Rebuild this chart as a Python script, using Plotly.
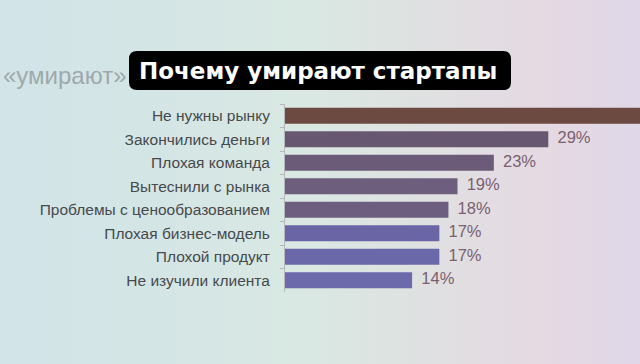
import plotly.graph_objects as go

# ---- data ----
categories = [
    "Не нужны рынку",
    "Закончились деньги",
    "Плохая команда",
    "Вытеснили с рынка",
    "Проблемы с ценообразованием",
    "Плохая бизнес-модель",
    "Плохой продукт",
    "Не изучили клиента",
]
values = [42, 29, 23, 19, 18, 17, 17, 14]
bar_colors = ["#6d4a41", "#685770", "#6b5a78", "#6d5e7e", "#6d5e80",
              "#6a66a6", "#6a68a8", "#6c6aaa"]
title_text = "Почему умирают стартапы"
subtitle_text = "«умирают»"
x_max = 39.1  # visible part of the value axis (the top bar runs off the slide)

# ---- geometry ----
W, H = 640, 364
L, R, T, B = 285, 0, 104, 72
PW, PH = W - L - R, H - T - B


def px(xp):
    return (xp - L) / PW


def py(yp):
    return (H - B - yp) / PH


fig = go.Figure()
fig.add_trace(go.Bar(
    x=values, y=categories, orientation="h",
    marker=dict(color=bar_colors, line=dict(width=0)),
    hoverinfo="skip",
))
fig.add_trace(go.Scatter(
    x=values, y=categories, mode="text",
    text=[f"\u00a0\u00a0{v}%" if v < x_max else "" for v in values],
    textposition="middle right",
    textfont=dict(family="Liberation Sans, Arial", size=16.5, color="#7a6070"),
    cliponaxis=True, hoverinfo="skip",
))

shapes = []
# background gradient strips
stops = [(0, (210, 228, 232)), (150, (212, 229, 230)), (300, (217, 232, 226)),
         (420, (223, 225, 225)), (540, (229, 217, 226)), (640, (223, 216, 232))]


def col_at(x):
    for (x0, c0), (x1, c1) in zip(stops[:-1], stops[1:]):
        if x0 <= x <= x1:
            t = (x - x0) / (x1 - x0)
            return "rgb(%d,%d,%d)" % tuple(round(a + (b - a) * t) for a, b in zip(c0, c1))
    return "rgb(%d,%d,%d)" % stops[-1][1]


step = 8
for xs in range(0, W, step):
    shapes.append(dict(type="rect", xref="paper", yref="paper", layer="below",
                       x0=px(xs), x1=px(xs + step + 1), y0=py(H), y1=py(0),
                       fillcolor=col_at(xs + step / 2), line=dict(width=0)))

# rounded black title box
x0, x1 = px(129), px(511)
yt, yb = py(51), py(90)
rx, ry = 8 / PW, 8 / PH
path = (f"M {x0+rx},{yt} L {x1-rx},{yt} Q {x1},{yt} {x1},{yt-ry} "
        f"L {x1},{yb+ry} Q {x1},{yb} {x1-rx},{yb} L {x0+rx},{yb} "
        f"Q {x0},{yb} {x0},{yb+ry} L {x0},{yt-ry} Q {x0},{yt} {x0+rx},{yt} Z")
shapes.append(dict(type="path", xref="paper", yref="paper", path=path,
                   fillcolor="#000000", line=dict(width=0), layer="above"))

annotations = [
    dict(xref="paper", yref="paper", x=px(129), y=py(76), xanchor="right",
         yanchor="middle", text=subtitle_text, showarrow=False,
         font=dict(family="Liberation Sans, Arial", size=24, color="#9ea9ab")),
    dict(xref="paper", yref="paper", x=px(318), y=py(71), xanchor="center",
         yanchor="middle", text=f"<b>{title_text}</b>", showarrow=False,
         font=dict(family="DejaVu Sans, Liberation Sans", size=23, color="#ffffff")),
]

fig.update_layout(
    width=W, height=H,
    margin=dict(l=L, r=R, t=T, b=B, pad=0),
    paper_bgcolor="#dde3e3", plot_bgcolor="rgba(0,0,0,0)",
    showlegend=False, bargap=0.32,
    shapes=shapes, annotations=annotations,
    xaxis=dict(range=[0, x_max], visible=False, fixedrange=True),
    yaxis=dict(autorange="reversed", showline=True, linecolor="#b5b9bb",
               linewidth=1, ticks="outside", tickson="boundaries", ticklen=4,
               tickcolor="#b5b9bb", ticklabelstandoff=11, showgrid=False,
               tickfont=dict(family="Liberation Sans, Arial", size=15.5, color="#474a4c"),
               fixedrange=True),
)

fig.write_html("out.html", config={"displayModeBar": False},
               post_script="document.body.style.margin='0';")
